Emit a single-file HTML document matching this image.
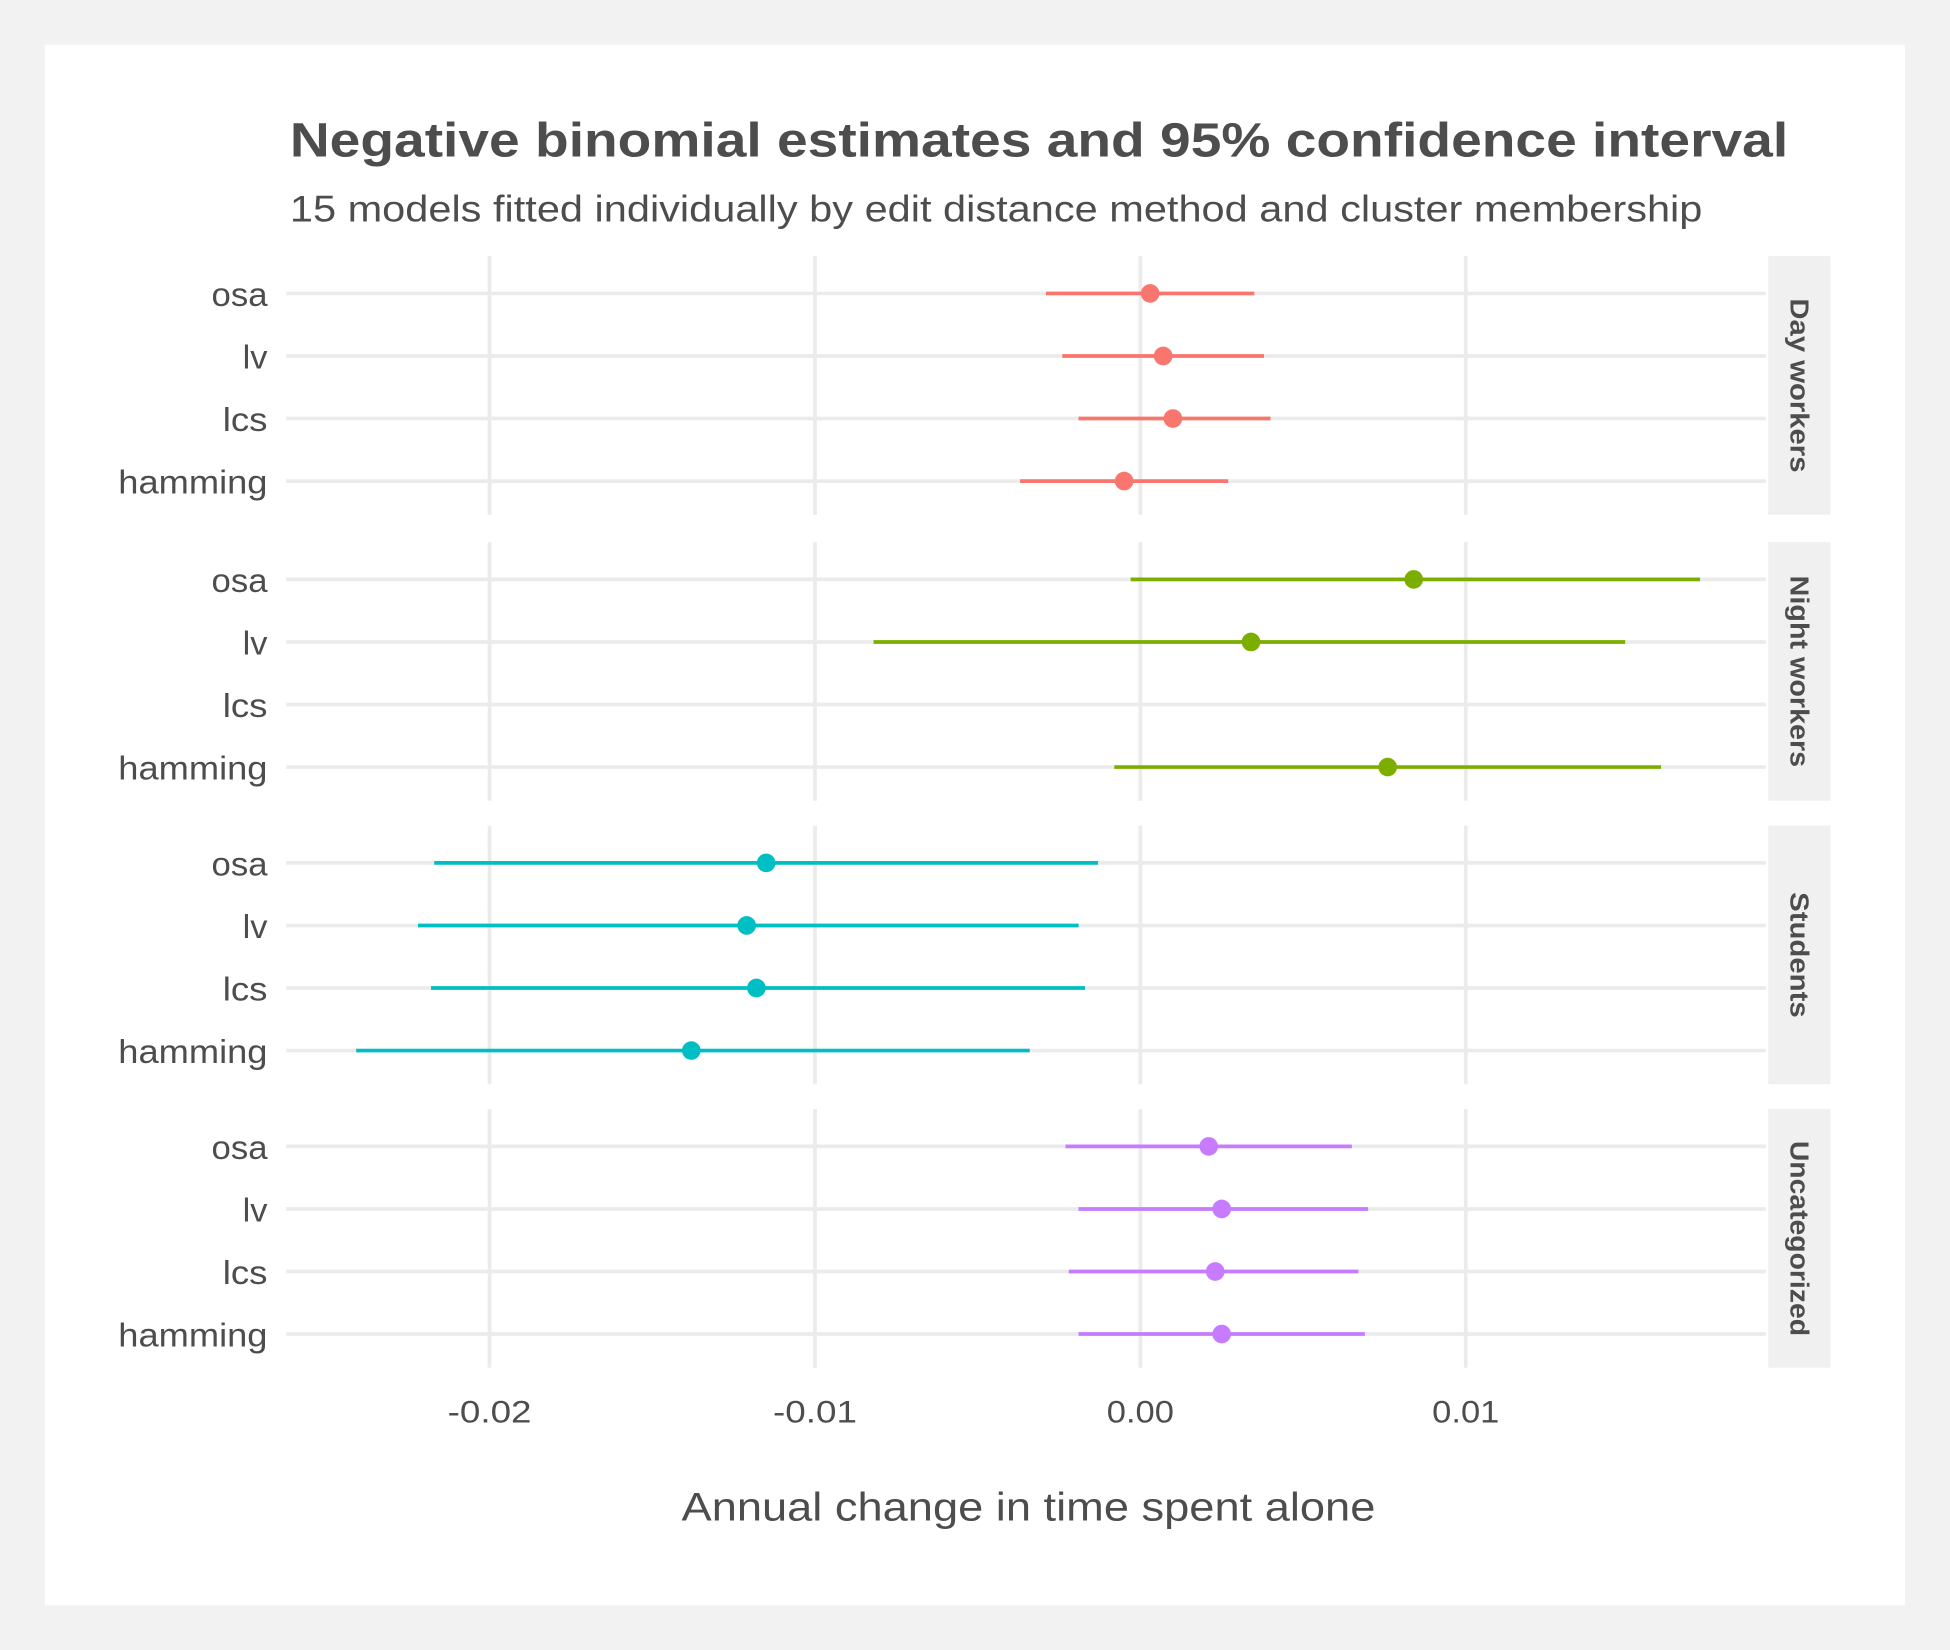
<!DOCTYPE html>
<html><head><meta charset="utf-8"><style>
html,body{margin:0;padding:0;background:#f2f2f2;}
svg{display:block;font-family:"Liberation Sans",Arial,sans-serif;}
</style></head><body>
<svg id="chart" width="1950" height="1650" viewBox="0 0 1568 1327" xmlns="http://www.w3.org/2000/svg">
<rect x="0" y="0" width="1568" height="1327" fill="#f2f2f2"/>
<rect x="36" y="36" width="1496" height="1255" fill="#ffffff"/>
<text x="233" y="126" font-size="39" font-weight="bold" fill="#4d4d4d" textLength="1205" lengthAdjust="spacingAndGlyphs">Negative binomial estimates and 95% confidence interval</text>
<text x="233" y="178" font-size="30" fill="#4d4d4d" textLength="1136" lengthAdjust="spacingAndGlyphs">15 models fitted individually by edit distance method and cluster membership</text>
<text x="548" y="1223" font-size="32" fill="#4d4d4d" textLength="558" lengthAdjust="spacingAndGlyphs">Annual change in time spent alone</text>
<g id="marks"></g>
</svg>
<script>
const panels = ["Day workers","Night workers","Students","Uncategorized"];
const methods = ["osa","lv","lcs","hamming"];
const colors = ["#F8766D","#7CAE00","#00BFC4","#C77CFF"];
const xTicks = [-0.02,-0.01,0.00,0.01];
const xTickLabels = ["-0.02","-0.01","0.00","0.01"];
const est = [
  [0.0003,0.0007,0.0010,-0.0005],
  [0.0084,0.0034,null,0.0076],
  [-0.0115,-0.0121,-0.0118,-0.0138],
  [0.0021,0.0025,0.0023,0.0025]
];
const lower = [
  [-0.0029,-0.0024,-0.0019,-0.0037],
  [-0.0003,-0.0082,null,-0.0008],
  [-0.0217,-0.0222,-0.0218,-0.0241],
  [-0.0023,-0.0019,-0.0022,-0.0019]
];
const upper = [
  [0.0035,0.0038,0.0040,0.0027],
  [0.0172,0.0149,null,0.0160],
  [-0.0013,-0.0019,-0.0017,-0.0034],
  [0.0065,0.0070,0.0067,0.0069]
];
const NS="http://www.w3.org/2000/svg";
const g=document.getElementById('marks');
const X0=230,X1=1420;
const labelW={osa:45,lv:20,lcs:36,hamming:120};
const stripW=[140,154,101,157];
function xs(v){return 917+v*26170;}
const panelTop=[206,436,664,892], panelH=208;
function ys(p,i){return panelTop[p]+30+i*50.3;}
function mk(t,a){const e=document.createElementNS(NS,t);for(const k in a)e.setAttribute(k,a[k]);g.appendChild(e);return e;}
panels.forEach((name,p)=>{
  const top=panelTop[p];
  xTicks.forEach((t,k)=>{
    const l=mk('line',{x1:xs(t),x2:xs(t),y1:top,y2:top+panelH,stroke:'#ebebeb','stroke-width':3});
    
    
  });
  methods.forEach((m,i)=>{
    const y=ys(p,i);
    const gl=mk('line',{x1:X0,x2:X1,y1:y,y2:y,stroke:'#ebebeb','stroke-width':3});
    
    
    const lab=mk('text',{x:215-labelW[m],y:y+10,'font-size':27,fill:'#4d4d4d',textLength:labelW[m],lengthAdjust:'spacingAndGlyphs'});
    lab.textContent=m;
    
    
  });
  const s=mk('rect',{x:1422,y:top,width:50,height:panelH,fill:'#f0f0f0'});
  
  
  const cy=top+panelH/2;
  const st=mk('text',{x:1440,y:cy,'font-size':21,'font-weight':'bold',fill:'#4d4d4d','text-anchor':'middle',textLength:stripW[p],lengthAdjust:'spacingAndGlyphs',transform:`rotate(90 1440 ${cy})`});
  st.textContent=name;
  
  
});
panels.forEach((name,p)=>{
  methods.forEach((m,i)=>{
    if(est[p][i]===null)return;
    const y=ys(p,i);
    const ci=mk('line',{x1:xs(lower[p][i]),x2:xs(upper[p][i]),y1:y,y2:y,stroke:colors[p],'stroke-width':3});
    
    
    const pt=mk('circle',{cx:xs(est[p][i]),cy:y,r:7.5,fill:colors[p]});
    
    
  });
});
xTicks.forEach((t,k)=>{
  const w=xTickLabels[k].length*13.5;
  const tl=mk('text',{x:xs(t)-w/2,y:1144,'font-size':25,fill:'#4d4d4d',textLength:w,lengthAdjust:'spacingAndGlyphs'});
  tl.textContent=xTickLabels[k];
  
  
});
</script>
</body></html>
